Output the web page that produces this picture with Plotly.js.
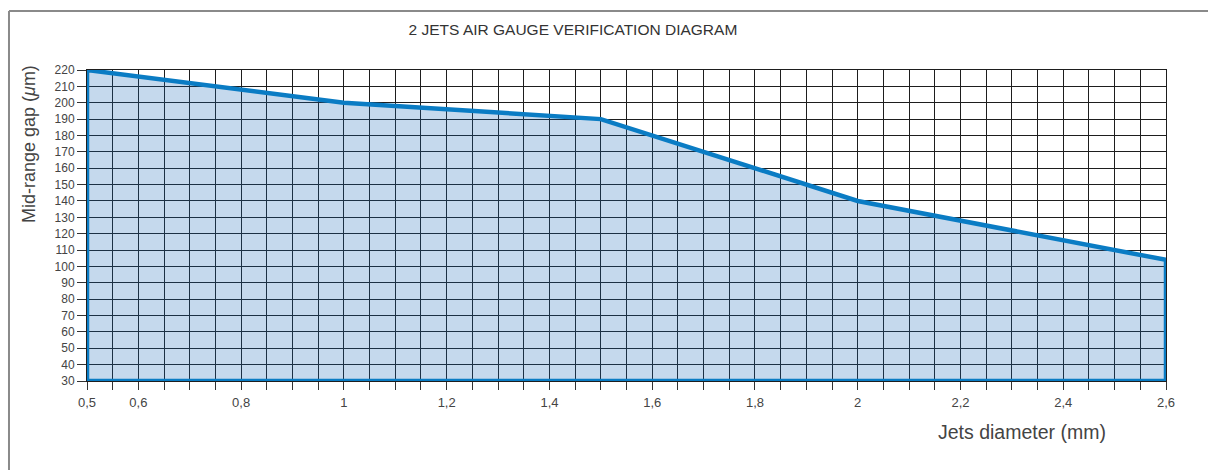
<!DOCTYPE html>
<html>
<head>
<meta charset="utf-8">
<script src="https://cdn.plot.ly/plotly-3.0.1.min.js"></script>
<style>html,body{margin:0;padding:0;background:#fff;}#chart{width:1208px;height:470px;}</style>
</head>
<body>
<div id="chart"></div>
<script>
// Data
var jetDiameter = [0.5, 1.0, 1.5, 2.0, 2.6];          // mm
var midRangeGap = [220, 200, 190, 140, 104];          // µm
var yBase = 30;                                       // bottom of the area

var xTickVals = [0.5, 0.6, 0.8, 1, 1.2, 1.4, 1.6, 1.8, 2, 2.2, 2.4, 2.6];
var xTickText = ['0,5', '0,6', '0,8', '1', '1,2', '1,4', '1,6', '1,8', '2', '2,2', '2,4', '2,6'];

// closed outline: down to the base on both ends
var polyX = [jetDiameter[0]].concat(jetDiameter, [jetDiameter[jetDiameter.length - 1], jetDiameter[0]]);
var polyY = [yBase].concat(midRangeGap, [yBase, yBase]);

var trace = {
  x: polyX, y: polyY, type: 'scatter', mode: 'lines',
  fill: 'toself', fillcolor: 'rgba(23,103,183,0.25)',
  line: {color: '#0a7cc4', width: 4.5, shape: 'linear'},
  hoverinfo: 'skip', showlegend: false
};

var gridCol = '#1e1e1e';
var fontFam = '"Liberation Sans", Arial, Helvetica, sans-serif';
var layout = {
  width: 1208, height: 470,
  margin: {l: 87, r: 42, t: 70, b: 89},
  paper_bgcolor: '#fff', plot_bgcolor: '#fff',
  font: {family: fontFam, color: '#444', size: 12},
  title: {text: '2 JETS AIR GAUGE VERIFICATION DIAGRAM', xref: 'paper', x: 0.4504, xanchor: 'center', y: 0.938, yanchor: 'middle',
          font: {family: fontFam, size: 15.5, color: '#333'}},
  xaxis: {
    range: [0.5, 2.6], tickmode: 'array', tickvals: xTickVals, ticktext: xTickText,
    ticks: 'outside', ticklen: 8, tickcolor: '#333', tickwidth: 1, ticklabelstandoff: 1,
    showgrid: true, gridcolor: gridCol, gridwidth: 1,
    minor: {tick0: 0.5, dtick: 0.05, ticks: 'outside', ticklen: 8, tickcolor: '#333', showgrid: true, gridcolor: gridCol, gridwidth: 1},
    showline: true, linecolor: '#1e1e1e', linewidth: 1, mirror: true,
    zeroline: false, tickfont: {size: 13, color: '#444'}, fixedrange: true
  },
  yaxis: {
    range: [30, 220], tick0: 30, dtick: 10,
    ticks: 'outside', ticklen: 9, tickcolor: '#333', tickwidth: 1,
    showgrid: true, gridcolor: gridCol, gridwidth: 1,
    showline: true, linecolor: '#1e1e1e', linewidth: 1, mirror: true,
    zeroline: false, tickfont: {size: 12, color: '#444'},
    fixedrange: true
  },
  annotations: [{
    text: 'Jets diameter (mm)', xref: 'paper', yref: 'paper', x: 0.946, y: -0.164,
    xanchor: 'right', yanchor: 'middle', showarrow: false,
    font: {family: fontFam, size: 19.5, color: '#444'}
  }, {
    text: 'Mid-range gap (<i>μ</i>m)', xref: 'paper', yref: 'paper', x: -0.0537, y: 0.762,
    xanchor: 'center', yanchor: 'middle', textangle: -90, showarrow: false,
    font: {family: fontFam, size: 18, color: '#444'}
  }],
  shapes: [
    {type: 'line', xref: 'paper', yref: 'paper', x0: -0.0723, x1: 1.05, y0: 1.1897, y1: 1.1897, line: {color: '#8a8a8a', width: 2}},
    {type: 'line', xref: 'paper', yref: 'paper', x0: -0.0723, x1: -0.0723, y0: 1.1897, y1: -0.3, line: {color: '#8a8a8a', width: 2}}
  ]
};

Plotly.newPlot('chart', [trace], layout, {displayModeBar: false, staticPlot: true});
</script>
</body>
</html>
